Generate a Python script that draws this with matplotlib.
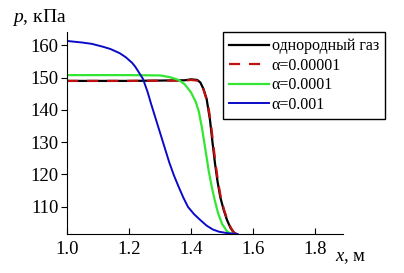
import numpy as np
import matplotlib
matplotlib.use('Agg')
import matplotlib.pyplot as plt

plt.rcParams['font.family'] = ['Liberation Serif', 'DejaVu Serif']
plt.rcParams['mathtext.fontset'] = 'custom'
plt.rcParams['mathtext.it'] = 'Liberation Serif:italic'
plt.rcParams['mathtext.rm'] = 'Liberation Serif'

# однородный газ
x_gas = [1.0, 1.20, 1.38, 1.40, 1.42, 1.43, 1.44, 1.45, 1.455, 1.461, 1.469, 1.477, 1.485, 1.494, 1.505, 1.516, 1.527, 1.537, 1.545]
p_gas = [149.0, 149.0, 149.2, 149.5, 149.3, 148.5, 146.5, 143.5, 140.5, 136.9, 130.0, 123.5, 118.0, 113.0, 109.0, 105.8, 103.4, 102.0, 101.5]

# alpha = 0.00001
x_a1 = [1.0, 1.20, 1.38, 1.40, 1.42, 1.43, 1.44, 1.45, 1.457, 1.463, 1.471, 1.479, 1.487, 1.496, 1.507, 1.518, 1.529, 1.539, 1.547]
p_a1 = [149.0, 149.0, 149.1, 149.3, 149.1, 148.3, 146.3, 143.2, 140.2, 136.5, 129.8, 123.3, 117.8, 112.8, 108.8, 105.6, 103.3, 101.9, 101.5]

# alpha = 0.0001
x_a2 = [1.0, 1.20, 1.30, 1.33, 1.36, 1.38, 1.40, 1.415, 1.425, 1.435, 1.448, 1.457, 1.467, 1.477, 1.487, 1.50, 1.516, 1.527, 1.537]
p_a2 = [150.8, 150.8, 150.7, 150.2, 149.3, 147.9, 145.4, 142.5, 139.5, 134.5, 126.6, 121.0, 116.0, 111.7, 108.0, 104.6, 102.3, 101.7, 101.5]

# alpha = 0.001
x_a3 = [1.0, 1.05, 1.08, 1.116, 1.14, 1.17, 1.19, 1.21, 1.22, 1.23, 1.245, 1.26, 1.27, 1.29, 1.31, 1.33, 1.345, 1.36, 1.375,
        1.39, 1.41, 1.43, 1.45, 1.47, 1.49, 1.52, 1.55]
p_a3 = [161.4, 160.9, 160.5, 159.6, 158.9, 157.6, 156.3, 154.6, 153.4, 151.9, 149.6, 145.5, 142.2, 136.0, 129.8, 123.6, 119.6, 116.1, 112.8,
        109.9, 107.6, 105.8, 104.1, 102.9, 102.2, 101.7, 101.5]

xticks = [1.0, 1.2, 1.4, 1.6, 1.8]
yticks = [110, 120, 130, 140, 150, 160]

fig = plt.figure(figsize=(4.04, 2.73), dpi=100)
ax = fig.add_axes([0.166, 0.143, 0.683, 0.74])

ax.plot(x_gas, p_gas, color='black', lw=1.6, label='однородный газ')
ax.plot(x_a1, p_a1, color='#c01010', lw=1.6, dashes=(5, 4), label='α=0.00001')
ax.plot(x_a2, p_a2, color='#33e633', lw=1.6, label='α=0.0001')
ax.plot(x_a3, p_a3, color='#0a0ac8', lw=1.4, label='α=0.001')

ax.set_xlim(1.0, 1.89)
ax.set_ylim(101.5, 164.2)
ax.set_xticks(xticks)
ax.set_xticklabels(['1.0', '1.2', '1.4', '1.6', '1.8'])
ax.set_yticks(yticks)
for s in ['top', 'right']:
    ax.spines[s].set_visible(False)
ax.tick_params(axis='x', direction='in', length=4, labelsize=13.5, pad=5)
ax.tick_params(axis='y', direction='out', length=4, labelsize=13.5, pad=2)

fig.text(0.03, 0.918, r'$p$, кПа', fontsize=14, va='baseline')
fig.text(0.83, 0.045, r'$x$, м', fontsize=13.5, va='baseline')

leg = ax.legend(loc='upper left', bbox_to_anchor=(0.552, 0.883),
                bbox_transform=fig.transFigure, fontsize=11.5, frameon=True,
                fancybox=False, edgecolor='black', framealpha=1,
                handlelength=2.5, handletextpad=0.15, labelspacing=0.22,
                borderpad=0.4, borderaxespad=0)
leg.get_frame().set_linewidth(1.0)

fig.savefig('out.png', dpi=100)
